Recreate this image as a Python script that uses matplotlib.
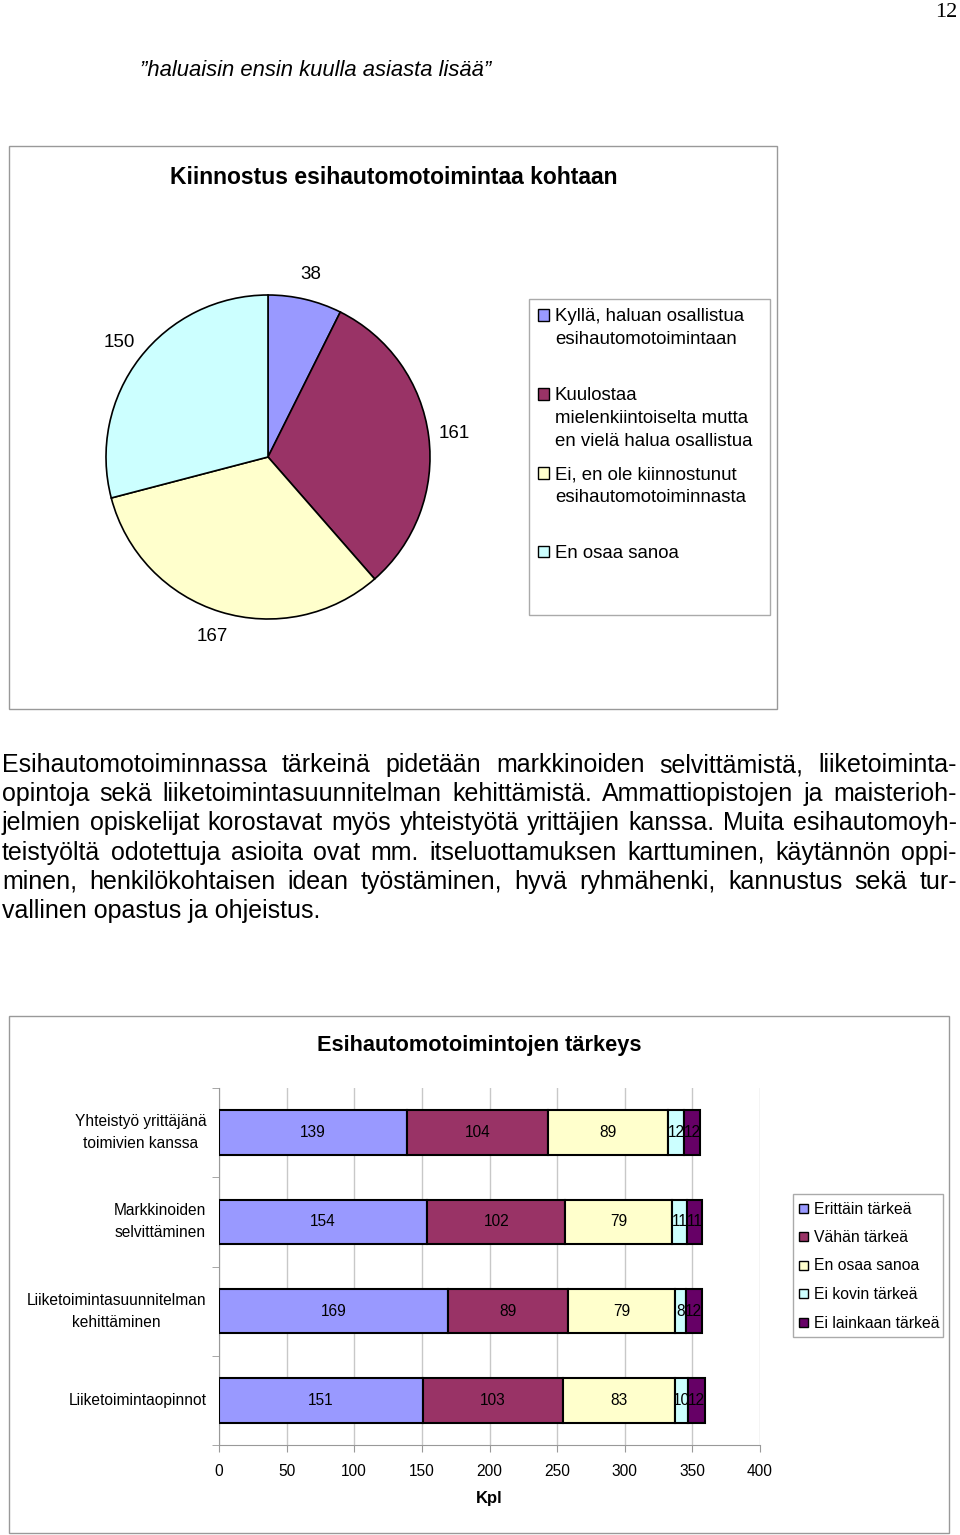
import matplotlib
matplotlib.use("Agg")
import matplotlib.pyplot as plt
from matplotlib.patches import Rectangle
import numpy as np

plt.rcParams['font.family'] = ['Liberation Sans', 'DejaVu Sans']

# pie data
pie_labels = ["Kyllä, haluan osallistua\nesihautomotoimintaan",
              "Kuulostaa\nmielenkiintoiselta mutta\nen vielä halua osallistua",
              "Ei, en ole kiinnostunut\nesihautomotoiminnasta",
              "En osaa sanoa"]
pie_values = [38, 161, 167, 150]
pie_colors = ["#9999FF", "#993366", "#FFFFCC", "#CCFFFF"]

# bar data
categories = ["Yhteistyö yrittäjänä\ntoimivien kanssa",
              "Markkinoiden\nselvittäminen",
              "Liiketoimintasuunnitelman\nkehittäminen",
              "Liiketoimintaopinnot"]
series_names = ["Erittäin tärkeä", "Vähän tärkeä", "En osaa sanoa",
                "Ei kovin tärkeä", "Ei lainkaan tärkeä"]
erittain = [139, 154, 169, 151]
vahan = [104, 102, 89, 103]
en_osaa = [89, 79, 79, 83]
ei_kovin = [12, 11, 8, 10]
ei_lainkaan = [12, 11, 12, 12]
bar_colors = ["#9999FF", "#993366", "#FFFFCC", "#CCFFFF", "#660066"]
x_ticks = [0, 50, 100, 150, 200, 250, 300, 350, 400]

paragraph = [
    "Esihautomotoiminnassa tärkeinä pidetään markkinoiden selvittämistä, liiketoiminta-",
    "opintoja sekä liiketoimintasuunnitelman kehittämistä. Ammattiopistojen ja maisterioh-",
    "jelmien opiskelijat korostavat myös yhteistyötä yrittäjien kanssa. Muita esihautomoyh-",
    "teistyöltä odotettuja asioita ovat mm. itseluottamuksen karttuminen, käytännön oppi-",
    "minen, henkilökohtaisen idean työstäminen, hyvä ryhmähenki, kannustus sekä tur-",
    "vallinen opastus ja ohjeistus.",
]

W, H = 960, 1535
fig = plt.figure(figsize=(W / 100, H / 100), dpi=100)


def fx(x):
    return x / W


def fy(y):
    return 1 - y / H


def frame(x0, y0, x1, y1, color="#999999"):
    fig.patches.append(Rectangle((fx(x0), fy(y1)), fx(x1) - fx(x0), fy(y0) - fy(y1),
                                 transform=fig.transFigure, fill=False,
                                 edgecolor=color, linewidth=1))


def square(x, y, color, s=11):
    fig.patches.append(Rectangle((fx(x - s / 2), fy(y + s / 2)), fx(s), s / H,
                                 transform=fig.transFigure, facecolor=color,
                                 edgecolor="black", linewidth=1))


# page header
fig.text(fx(957), fy(3), "12", family="Liberation Serif", fontsize=16,
         ha="right", va="top")
fig.text(fx(140), fy(76), "\u201dhaluaisin ensin kuulla asiasta lisää\u201d",
         fontsize=15.8, style="italic", va="baseline")

# ---- pie chart ----
frame(9, 146, 777, 709)
fig.text(fx(394), fy(177), "Kiinnostus esihautomotoimintaa kohtaan",
         fontsize=16.5, weight="bold", ha="center", va="center")

r = 162 * 1.1
ax_pie = fig.add_axes([fx(268 - r), fy(457 + r), 2 * r / W, 2 * r / H])
wedges, texts = ax_pie.pie(pie_values, colors=pie_colors, startangle=90,
                           counterclock=False,
                           labels=[str(v) for v in pie_values], labeldistance=1.16,
                           wedgeprops=dict(edgecolor="black", linewidth=1.2),
                           textprops=dict(fontsize=13.5))
for t in texts:
    t.set_ha("center")
    t.set_va("center")
ax_pie.set_xlim(-1.1, 1.1)
ax_pie.set_ylim(-1.1, 1.1)

# pie legend
frame(529, 299, 770, 615, color="#AAAAAA")
leg_rows = [315, 394, 473, 552]
for lab, col, yy in zip(pie_labels, pie_colors, leg_rows):
    square(543, yy, col)
    fig.text(fx(555), fy(yy - 7), lab, fontsize=13.4, va="top", ha="left",
             linespacing=1.48)

# ---- justified paragraph ----
renderer = fig.canvas.get_renderer()
x_left, x_right = 2, 957
base0, step = 772, 29.2
for i, line in enumerate(paragraph):
    yb = fy(base0 + i * step)
    if i == len(paragraph) - 1:
        fig.text(fx(x_left), yb, line, fontsize=18, va="baseline")
        continue
    words = line.split(" ")
    objs = [fig.text(0, yb, w, fontsize=18, va="baseline") for w in words]
    widths = [o.get_window_extent(renderer).width for o in objs]
    gap = (x_right - x_left - sum(widths)) / (len(words) - 1)
    xpos = x_left
    for o, w in zip(objs, widths):
        o.set_x(fx(xpos))
        xpos += w + gap

# ---- bar chart ----
frame(9, 1016, 949, 1533)
fig.text(fx(479), fy(1045), "Esihautomotoimintojen tärkeys",
         fontsize=15.7, weight="bold", ha="center", va="center")

ax = fig.add_axes([fx(219), fy(1445), 541 / W, 357 / H])
ypos = np.arange(len(categories))
left = np.zeros(len(categories))
for name, vals, col in zip(series_names,
                           [erittain, vahan, en_osaa, ei_kovin, ei_lainkaan],
                           bar_colors):
    bars = ax.barh(ypos, vals, left=left, height=0.5, color=col,
                   edgecolor="black", linewidth=1.5, label=name, zorder=3)
    ax.bar_label(bars, labels=[str(v) for v in vals], label_type="center",
                 fontsize=11.2, zorder=4)
    left += np.array(vals)

ax.set_xlim(0, 400)
ax.set_ylim(3.5, -0.5)
ax.set_xticks(x_ticks)
ax.set_xticklabels([str(t) for t in x_ticks], fontsize=11.2)
ax.set_yticks(ypos)
ax.set_yticklabels(categories, fontsize=11.2, linespacing=1.6, ma="center")
for t in ax.get_yticklabels():
    t.set_va("center")
ax.set_yticks(np.arange(-0.5, 4.0, 1.0), minor=True)
ax.tick_params(axis="y", which="major", length=0, pad=9)
ax.tick_params(axis="y", which="minor", length=5, color="#999999", direction="out")
ax.tick_params(axis="x", length=5, color="#999999", direction="out", pad=9)
ax.grid(axis="x", color="#C8C8C8", linewidth=1, zorder=0)
for s in ["top", "right"]:
    ax.spines[s].set_visible(False)
for s in ["left", "bottom"]:
    ax.spines[s].set_color("#999999")
ax.set_xlabel("Kpl", fontsize=12, weight="bold", labelpad=8)

# bar legend
frame(793, 1194, 943, 1337, color="#AAAAAA")
for k, (name, col) in enumerate(zip(series_names, bar_colors)):
    yy = 1208 + k * 28.5
    square(803, yy, col, s=9)
    fig.text(fx(814), fy(yy + 1), name, fontsize=11.3, va="center", ha="left")

fig.savefig("out.png", dpi=100)
